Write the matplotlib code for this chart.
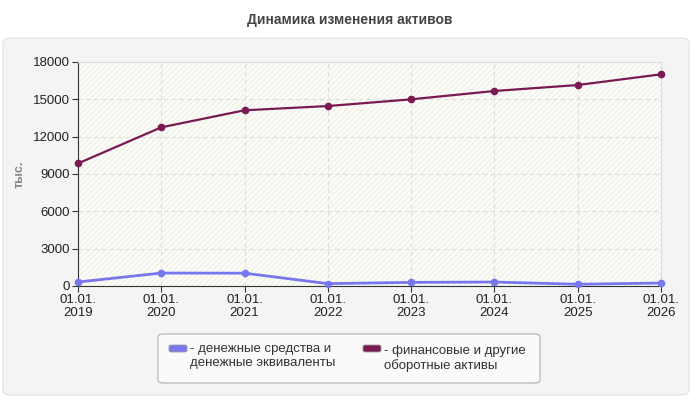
"""Динамика изменения активов: two asset series over eight report dates."""

import matplotlib

matplotlib.use("Agg")
import matplotlib.pyplot as plt
from matplotlib.patches import FancyBboxPatch

dates = ["01.01.\n2019", "01.01.\n2020", "01.01.\n2021", "01.01.\n2022",
         "01.01.\n2023", "01.01.\n2024", "01.01.\n2025", "01.01.\n2026"]
cash = [320, 1040, 1030, 190, 290, 320, 140, 240]
other_assets = [9850, 12750, 14120, 14460, 15000, 15670, 16150, 17010]
yticks = [0, 3000, 6000, 9000, 12000, 15000, 18000]

cash_label = "- денежные средства и\nденежные эквиваленты"
other_label = "- финансовые и другие\nоборотные активы"
cash_color = "#7777ee"
other_color = "#7a1a52"

plt.rcParams["font.family"] = ["Liberation Sans", "DejaVu Sans"]

W, H = 700, 400


def fx(px):
    return px / W


def fy(py):
    return 1 - py / H


fig = plt.figure(figsize=(7, 4), dpi=100)
fig.patch.set_facecolor("white")

# grey rounded panel behind everything
panel = FancyBboxPatch((fx(3), fy(395)), fx(686), 357 / H,
                       boxstyle="round,pad=0,rounding_size=0.012",
                       transform=fig.transFigure, facecolor="#f4f4f4",
                       edgecolor="#e2e2e2", linewidth=0.8, zorder=-10)
fig.add_artist(panel)

fig.text(0.5, fy(20), "Динамика изменения активов", ha="center", va="center",
         fontsize=10, fontweight="bold", color="#444444")

ax = fig.add_axes([fx(78), fy(286), fx(583), 224 / H])
ax.set_facecolor("#fdfdf8")
ax.add_patch(plt.Rectangle((0, 0), 1, 1, transform=ax.transAxes, facecolor="none",
                           edgecolor="#f0f0ec", hatch="//////", linewidth=0, zorder=0))

x = list(range(len(dates)))
ax.plot(x, cash, color=cash_color, linewidth=2, marker="o", markersize=4.5, zorder=3,
        clip_on=False)
ax.plot(x, other_assets, color=other_color, linewidth=1.6, marker="o", markersize=4.5,
        zorder=3, clip_on=False)

ax.set_xlim(0, len(dates) - 1)
ax.set_ylim(0, 18000)
ax.set_xticks(x)
ax.set_xticklabels(dates, fontsize=9.5, color="#222222", linespacing=1.1)
ax.set_yticks(yticks)
ax.set_yticklabels([str(v) for v in yticks], fontsize=9.5, color="#222222")
ax.tick_params(axis="both", length=4, color="#333333", pad=2)
ax.grid(True, color="#dddddd", linestyle=(0, (4, 3)), linewidth=0.8)
ax.set_axisbelow(True)
for side in ("top", "right"):
    ax.spines[side].set_color("#dddddd")
for side in ("left", "bottom"):
    ax.spines[side].set_color("#333333")

fig.text(fx(20), fy(174), "тыс.", rotation=90, ha="center", va="center",
         fontsize=9, fontweight="bold", color="#888888")

# legend drawn by hand to match the boxed two-column layout
frame = FancyBboxPatch((fx(158), fy(383)), fx(382), 49 / H,
                       boxstyle="round,pad=0,rounding_size=0.008",
                       transform=fig.transFigure, facecolor="#fafafa",
                       edgecolor="#b0b0b0", linewidth=0.8)
fig.add_artist(frame)
for color, label, hx, ty in [(cash_color, cash_label, 169, 343),
                             (other_color, other_label, 363, 345)]:
    fig.add_artist(FancyBboxPatch((fx(hx), fy(352)), fx(18), 7 / H,
                                  boxstyle="round,pad=0,rounding_size=0.004",
                                  transform=fig.transFigure, facecolor=color,
                                  edgecolor="#999999", linewidth=0.6))
    fig.text(fx(hx + 21), fy(ty), label, ha="left", va="top", fontsize=9.5,
             color="#333333", linespacing=1.25)

fig.savefig("out.png", dpi=100)
